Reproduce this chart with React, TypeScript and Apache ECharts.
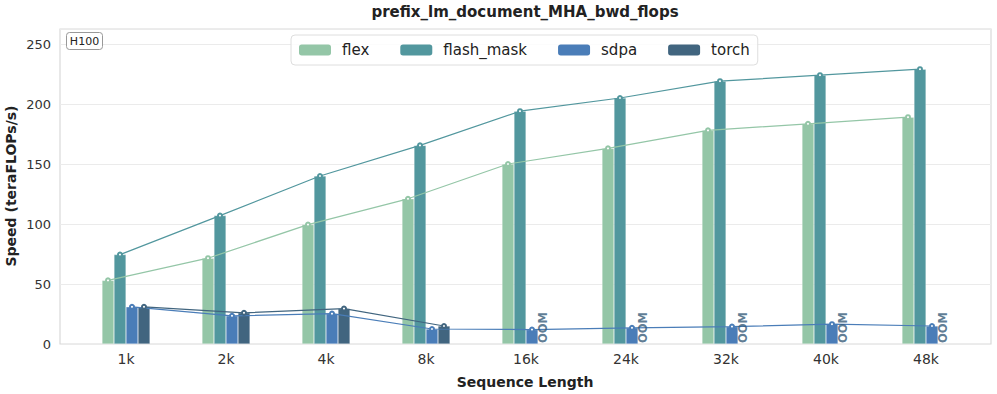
import React, { useEffect, useRef } from "react";
import * as echarts from "echarts";

const categories = ["1k", "2k", "4k", "8k", "16k", "24k", "32k", "40k", "48k"];
const flexValues = [53, 71.5, 99.5, 121, 150, 163, 178, 183.5, 189];
const flashMaskValues = [74.5, 107, 140, 165.5, 194, 205, 219, 224, 229];
const sdpaValues = [31, 23.5, 25.3, 12.5, 12, 13.5, 14.5, 16.5, 15];
const torchValues: (number | null)[] = [31, 26, 29.5, 15, null, null, null, null, null];
const oomIndices = [4, 5, 6, 7, 8];
const yTicks = [0, 50, 100, 150, 200, 250];

const seriesNames = ["flex", "flash_mask", "sdpa", "torch"];
const colors = ["#94c6a7", "#52979e", "#4a7db8", "#41657f"];
const offsets = [-0.18, -0.06, 0.06, 0.18];
const FONT = "DejaVu Sans";

export default function App() {
  const ref = useRef<HTMLDivElement>(null);
  useEffect(() => {
    if (!ref.current) return;
    const chart = echarts.init(ref.current, null, { renderer: "svg" });
    const allValues = [flexValues, flashMaskValues, sdpaValues, torchValues];

    const barSeries = allValues.map((vals, i) => ({
      name: seriesNames[i],
      type: "bar",
      xAxisIndex: 1,
      yAxisIndex: 1,
      data: vals,
      barWidth: 12,
      barGap: "0%",
      itemStyle: { color: colors[i], borderColor: "rgba(255,255,255,0.5)", borderWidth: 0.5 },
      z: 2,
    }));

    const lineSeries = allValues.map((vals, i) => ({
      name: seriesNames[i] + "_line",
      type: "line",
      xAxisIndex: 2,
      yAxisIndex: 1,
      data: vals
        .map((v, k) => (v == null ? null : [k + offsets[i], v]))
        .filter((d) => d !== null),
      symbol: "emptyCircle",
      symbolSize: 4,
      lineStyle: { color: colors[i], width: 1.2 },
      itemStyle: { color: colors[i], borderWidth: 1 },
      z: 5,
    }));

    const oomSeries = {
      name: "oom",
      type: "scatter",
      xAxisIndex: 2,
      yAxisIndex: 1,
      symbolSize: 0,
      data: oomIndices.map((k) => [k + offsets[3], 0]),
      label: {
        show: true,
        formatter: "OOM",
        position: [0, 0],
        rotate: 90,
        align: "left",
        verticalAlign: "middle",
        offset: [1, -1],
        color: "#345a78",
        fontFamily: FONT,
        fontWeight: "bold",
        fontSize: 11.5,
      },
      z: 6,
    };

    chart.setOption({
      animation: false,
      grid: [
        { left: 60, right: 6, top: 29, bottom: 50, show: true, borderColor: "#d9d9d9", borderWidth: 1.2, backgroundColor: "transparent" },
        { left: 76, right: 21, top: 29, bottom: 50 },
      ],
      xAxis: [
        { type: "value", gridIndex: 0, min: -0.66, max: 8.65, show: false },
        {
          type: "category",
          gridIndex: 1,
          data: categories,
          axisLine: { show: false },
          axisTick: { show: false },
          axisLabel: { color: "#333", fontSize: 14, fontFamily: FONT, margin: 8 },
        },
        { type: "value", gridIndex: 1, min: -0.5, max: 8.5, show: false },
      ],
      yAxis: [
        {
          type: "value",
          gridIndex: 0,
          min: 0,
          max: 262.5,
          interval: 50,
          axisLine: { show: false },
          axisTick: { show: false },
          axisLabel: {
            color: "#333",
            fontSize: 13,
            fontFamily: FONT,
            margin: 9,
            formatter: (v: number) => (yTicks.includes(v) ? String(v) : ""),
          },
          splitLine: { lineStyle: { color: "#ebebeb", width: 1 } },
        },
        { type: "value", gridIndex: 1, min: 0, max: 262.5, show: false },
      ],
      legend: {
        data: seriesNames,
        left: 291,
        top: 35,
        itemWidth: 32,
        itemHeight: 11,
        itemGap: 31,
        padding: [6, 8, 6, 8],
        borderColor: "#dedede",
        borderWidth: 1,
        borderRadius: 4,
        backgroundColor: "rgba(255,255,255,0.85)",
        textStyle: { color: "#222", fontSize: 15, fontFamily: FONT, padding: [0, 0, 0, 6], lineHeight: 18 },
        itemStyle: { borderWidth: 0 },
      },
      graphic: [
        {
          type: "text",
          x: 525,
          y: 12,
          style: { text: "prefix_lm_document_MHA_bwd_flops", font: `bold 15px "${FONT}"`, fill: "#222", align: "center", verticalAlign: "middle" },
        },
        {
          type: "text",
          x: 525,
          y: 382,
          style: { text: "Sequence Length", font: `bold 14px "${FONT}"`, fill: "#222", align: "center", verticalAlign: "middle" },
        },
        {
          type: "text",
          x: 11,
          y: 186,
          rotation: Math.PI / 2,
          style: { text: "Speed (teraFLOPs/s)", font: `bold 14px "${FONT}"`, fill: "#222", align: "center", verticalAlign: "middle" },
        },
        {
          type: "rect",
          shape: { x: 66.5, y: 32.5, width: 36, height: 17, r: 3 },
          style: { fill: "#fff", stroke: "#999", lineWidth: 1 },
          z: 10,
        },
        {
          type: "text",
          x: 84.5,
          y: 41,
          style: { text: "H100", font: `11px "${FONT}"`, fill: "#222", align: "center", verticalAlign: "middle" },
          z: 11,
        },
      ],
      series: [...barSeries, ...lineSeries, oomSeries],
    });
    return () => chart.dispose();
  }, []);
  return <div ref={ref} style={{ width: 997, height: 394, position: "absolute", left: 0, top: 0 }} />;
}
